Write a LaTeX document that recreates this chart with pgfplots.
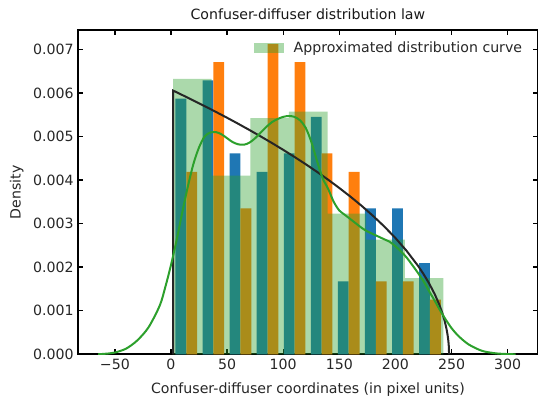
\documentclass[border=0pt]{standalone}
\usepackage{fontspec}
\setmainfont{DejaVu Sans}
\usepackage{pgfplots}
\pgfplotsset{compat=1.18}
\definecolor{cblue}{RGB}{31,119,180}
\definecolor{corange}{RGB}{255,127,14}
\definecolor{cgreen}{RGB}{44,160,44}
\definecolor{cdark}{RGB}{38,38,38}
\newcommand{\fs}{\fontsize{10.6}{12.5}\selectfont}
\begin{document}
\begin{tikzpicture}[font=\fs]
\useasboundingbox (-58.725pt,-36.525pt) rectangle (345.525pt,265.725pt);
\begin{axis}[
  scale only axis,
  width=344.4pt, height=243.2pt,
  xmin=-82.6, xmax=326.6, ymin=0, ymax=0.007443,
  axis line style={line width=1.2pt},
  tick align=inside,
  major tick length=3.75pt,
  every tick/.style={line width=1pt, black},
  xtick={-50,0,50,100,150,200,250,300},
  xticklabels={−50,0,50,100,150,200,250,300},
  ytick={0,0.001,0.002,0.003,0.004,0.005,0.006,0.007},
  yticklabels={0.000,0.001,0.002,0.003,0.004,0.005,0.006,0.007},
  scaled y ticks=false,
  tick label style={font=\fs, text=black!85},
  /pgf/number format/assume math mode=true,
  title={Confuser-diffuser distribution law},
  title style={at={(axis description cs:0.5,1.008)}, anchor=base, font=\fs, text=black!90},
  xlabel={Confuser-diffuser coordinates (in pixel units)},
  xlabel style={at={(axis description cs:0.5,-0.1224)}, anchor=base, font=\fs, text=black!85},
  ylabel={Density},
  ylabel style={at={(axis description cs:-0.1254,0.5)}, rotate=0, anchor=base, font=\fs, text=black!85},
  legend style={draw=none, fill=none, at={(0.9728,0.9445)}, anchor=east, font=\fs, text=black!85,
    inner sep=0pt, /tikz/every odd column/.append style={column sep=5pt}},
  legend cell align=left,
]
% blue series (bars)
\addplot[ybar, bar width=9.65, bar shift=0pt, fill=cblue, draw=none, forget plot] coordinates {
(8.84,0.005866) (32.96,0.006285) (57.08,0.004609) (81.20,0.004190) (105.32,0.004609)
(129.44,0.005447) (153.56,0.001676) (177.68,0.003352) (201.80,0.003352) (225.92,0.002095)};
% orange series (bars)
\addplot[ybar, bar width=9.65, bar shift=0pt, fill=corange, draw=none, forget plot] coordinates {
(18.48,0.004190) (42.60,0.006704) (66.72,0.003352) (90.84,0.007123) (114.96,0.006704)
(139.08,0.004609) (163.20,0.004190) (187.32,0.001676) (211.44,0.001676) (235.56,0.001257)};
% green translucent histogram
\addplot[ybar interval, fill=cgreen, fill opacity=0.4, draw=none,
  legend image code/.code={\fill[cgreen, fill opacity=0.4] (0pt,-3.4pt) rectangle (22.5pt,3.4pt);}] coordinates {
(1.8,0.00632) (36.23,0.0041) (70.66,0.00542) (105.09,0.00557) (139.52,0.00323)
(173.95,0.00263) (208.38,0.00175) (242.81,0.00175)};
\addlegendentry{Approximated distribution curve}
% black theoretical curve
\addplot[cdark, line width=1.5pt, forget plot] coordinates {
(2,0) (2,0.006052) (10,0.005952) (20,0.005826) (30,0.005697) (40,0.005564) (50,0.005429)
(60,0.005290) (70,0.005147) (80,0.005000) (90,0.004849) (100,0.004693) (110,0.004531)
(120,0.004364) (130,0.004190) (140,0.004008) (150,0.003817) (160,0.003617) (170,0.003405)
(180,0.003178) (190,0.002935) (200,0.002669) (210,0.002373) (220,0.002035) (225,0.001843)
(230,0.001629) (235,0.001381) (239,0.001145) (242,0.000930) (244,0.000752) (245.5,0.000585)
(246.5,0.000440) (247.2,0.000299) (247.6,0.000173) (247.8,0)};
% green KDE curve
\addplot[cgreen, line width=1.5pt, smooth, forget plot] coordinates {
(-65,0) (-55,0.00002) (-50,0.00004) (-40,0.00013) (-30,0.00032) (-20,0.00062) (-10,0.00112)
(-5,0.00155) (0,0.00205) (5,0.00262) (10,0.00325) (15,0.00385) (20,0.00437) (25,0.00475)
(30,0.005) (35,0.00509) (40,0.0051) (45,0.00505) (50,0.00496) (55,0.00487) (60,0.00482)
(65,0.00481) (70,0.00486) (75,0.00496) (80,0.00509) (85,0.00522) (90,0.00533) (95,0.0054)
(100,0.00545) (105,0.00547) (110,0.00545) (115,0.00537) (120,0.0052) (125,0.00488)
(130,0.00445) (135,0.00405) (140,0.0038) (145,0.0035) (150,0.0033) (155,0.0032) (160,0.0031)
(165,0.003) (170,0.0029) (175,0.00282) (180,0.00276) (185,0.0027) (190,0.00264) (195,0.00258)
(200,0.00248) (205,0.00236) (210,0.00222) (215,0.00205) (220,0.00187) (225,0.00168)
(230,0.00145) (235,0.00123) (240,0.001) (245,0.00079) (250,0.0006) (255,0.00045) (260,0.00033)
(265,0.00023) (270,0.00016) (275,0.0001) (280,0.00006) (290,0.00002) (300,0.000005) (307,0)};
\end{axis}
\end{tikzpicture}
\end{document}
